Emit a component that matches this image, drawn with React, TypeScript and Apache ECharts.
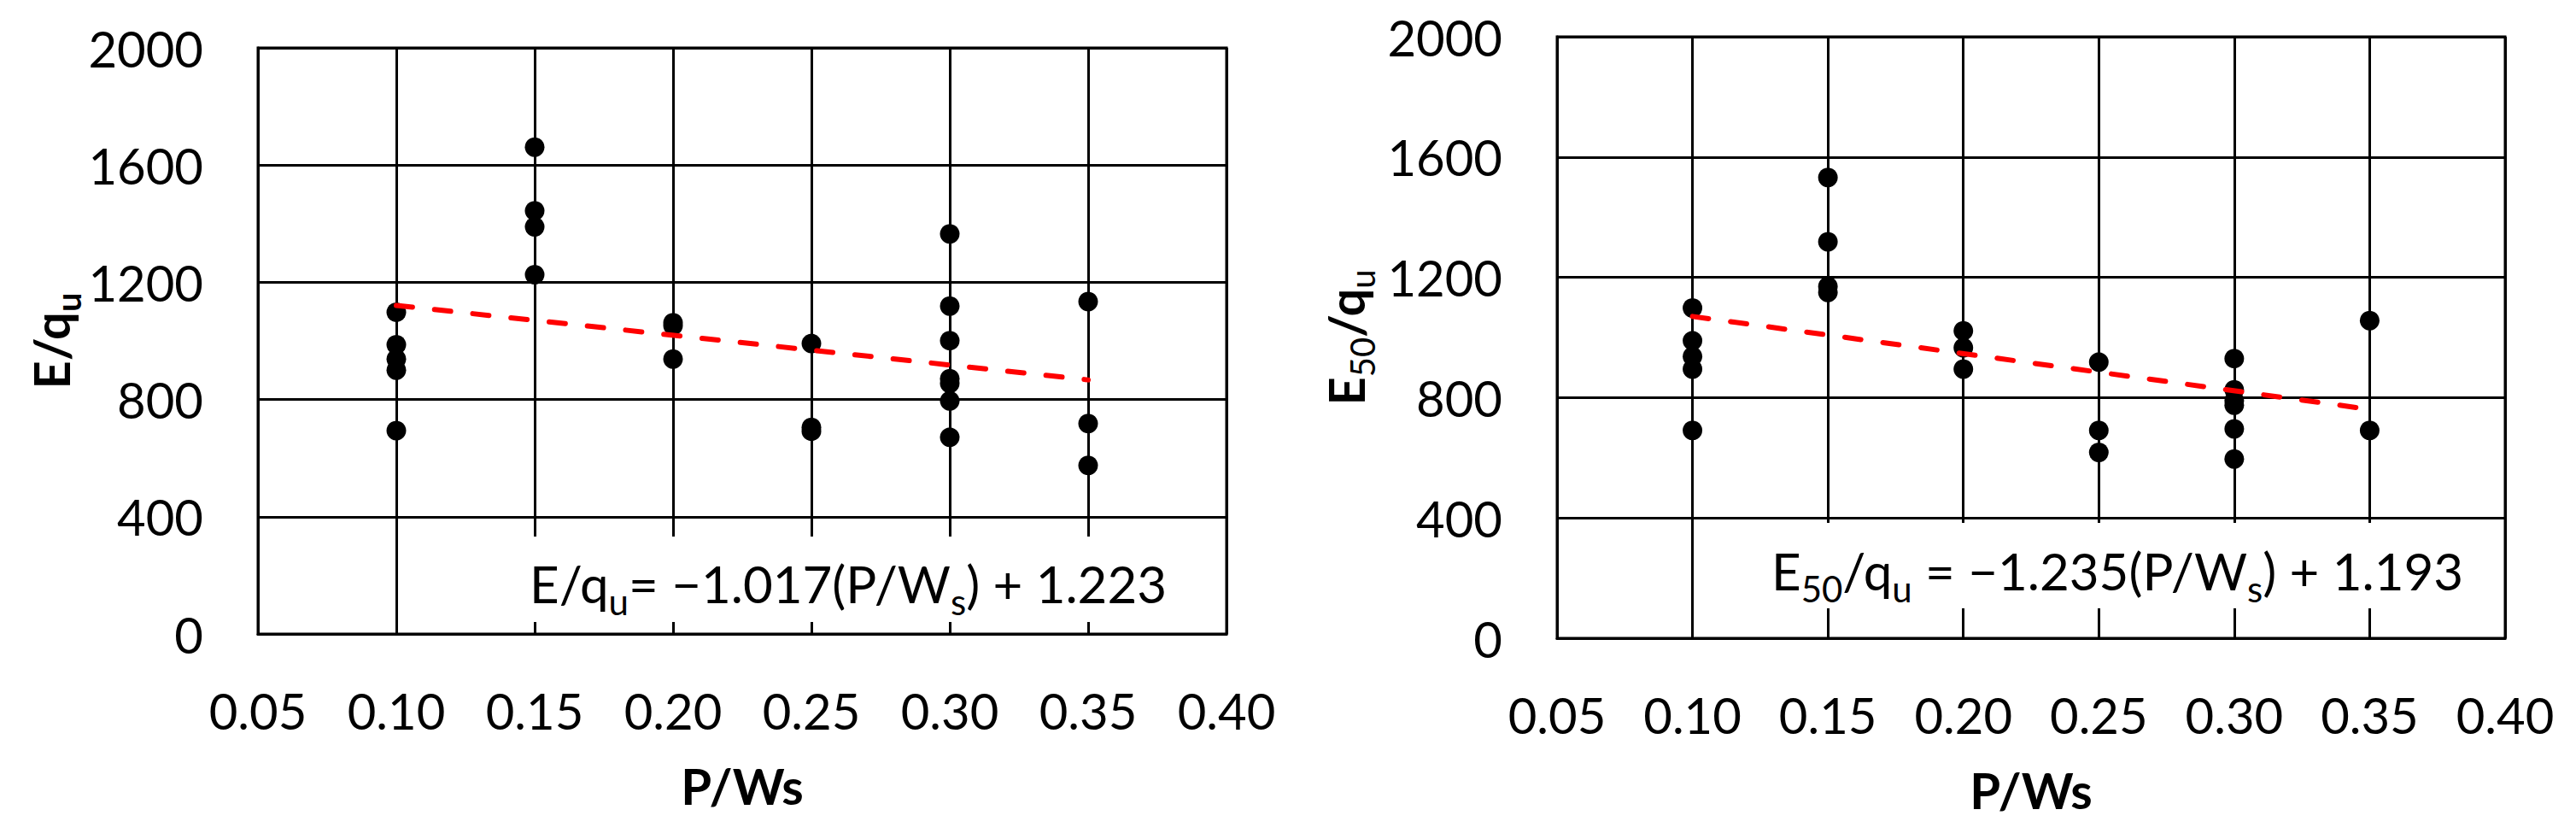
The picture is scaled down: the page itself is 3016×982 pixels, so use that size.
import React, { useEffect, useRef } from "react";
import * as echarts from "echarts";

// ---- axis ranges / ticks ----
const X_MIN = 0.05;
const X_MAX = 0.4;
const X_STEP = 0.05;
const Y_MIN = 0;
const Y_MAX = 2000;
const Y_STEP = 400;

// ---- left chart: E/qu vs P/Ws ----
const LEFT_PWS = [
  0.1, 0.1, 0.1, 0.1, 0.1,
  0.15, 0.15, 0.15, 0.15,
  0.2, 0.2, 0.2,
  0.25, 0.25, 0.25,
  0.3, 0.3, 0.3, 0.3, 0.3, 0.3, 0.3,
  0.35, 0.35, 0.35,
];
const LEFT_E_QU = [
  1098, 987, 938, 900, 694,
  1661, 1444, 1389, 1226,
  1062, 1052, 938,
  991, 705, 692,
  1365, 1119, 1001, 871, 855, 795, 671,
  1134, 718, 575,
];
const LEFT_TREND_PWS = [0.1, 0.35];
const LEFT_TREND_VAL = [1121, 867];

// ---- right chart: E50/qu vs P/Ws ----
const RIGHT_PWS = [
  0.1, 0.1, 0.1, 0.1, 0.1,
  0.15, 0.15, 0.15, 0.15,
  0.2, 0.2, 0.2,
  0.25, 0.25, 0.25,
  0.3, 0.3, 0.3, 0.3, 0.3, 0.3,
  0.35, 0.35,
];
const RIGHT_E50_QU = [
  1098, 989, 937, 895, 691,
  1532, 1318, 1170, 1150,
  1022, 966, 895,
  918, 691, 618,
  930, 826, 790, 775, 696, 596,
  1056, 691,
];
const RIGHT_TREND_PWS = [0.1, 0.35];
const RIGHT_TREND_VAL = [1070, 761];

// ---- texts ----
const X_TITLE = "P/Ws";
const LEFT_Y_TITLE = "{b|E/q}{bs|u}";
const RIGHT_Y_TITLE = "{b|E}{ns|50}{b|/q}{ns|u}";
const LEFT_EQUATION = "{m|E/q}{s|u}{m|= −1.017(P/W}{s|s}{m|) + 1.223}";
const RIGHT_EQUATION = "{m|E}{s|50}{m|/q}{s|u}{m| = −1.235(P/W}{s|s}{m|) + 1.193}";

const FONT = "Lato, 'Open Sans', 'DejaVu Sans', sans-serif";
const FS = 58;
const SUB = 40;
const EQ_FS = 60;
const EQ_SUB = 42;

const titleRich = {
  b: { fontFamily: FONT, fontSize: FS, fontWeight: "bold", color: "#000", lineHeight: FS, verticalAlign: "top" },
  bs: {
    fontFamily: FONT, fontSize: SUB, fontWeight: "bold", color: "#000",
    lineHeight: SUB, verticalAlign: "top", padding: [29, 0, 0, 0],
  },
  ns: {
    fontFamily: FONT, fontSize: SUB, fontWeight: "normal", color: "#000",
    lineHeight: SUB, verticalAlign: "top", padding: [29, 0, 0, 0],
  },
};
const eqRich = {
  m: { fontFamily: FONT, fontSize: EQ_FS, fontWeight: "normal", color: "#000", lineHeight: EQ_FS, verticalAlign: "top" },
  s: {
    fontFamily: FONT, fontSize: EQ_SUB, fontWeight: "normal", color: "#000",
    lineHeight: EQ_SUB, verticalAlign: "top", padding: [30, 0, 0, 0],
  },
};

function xAxisFor(gridIndex: number) {
  return {
    type: "value",
    gridIndex,
    min: X_MIN,
    max: X_MAX,
    interval: X_STEP,
    axisLine: { show: true, onZero: false, lineStyle: { color: "#000", width: 3 } },
    axisTick: { show: false },
    splitLine: { show: true, lineStyle: { color: "#000", width: 3 } },
    axisLabel: {
      fontFamily: FONT,
      fontSize: FS,
      color: "#000",
      margin: 60,
      formatter: (v: number) => v.toFixed(2),
    },
    name: X_TITLE,
    nameLocation: "middle",
    nameGap: 148,
    nameTextStyle: { fontFamily: FONT, fontSize: FS, fontWeight: "bold", color: "#000" },
  };
}

function yAxisFor(gridIndex: number, name: string, nameGap: number) {
  return {
    type: "value",
    gridIndex,
    min: Y_MIN,
    max: Y_MAX,
    interval: Y_STEP,
    axisLine: { show: true, onZero: false, lineStyle: { color: "#000", width: 3 } },
    axisTick: { show: false },
    splitLine: { show: true, lineStyle: { color: "#000", width: 3 } },
    axisLabel: {
      fontFamily: FONT,
      fontSize: FS,
      color: "#000",
      margin: 64,
      formatter: (v: number) => String(v),
    },
    name,
    nameLocation: "middle",
    nameRotate: 90,
    nameGap,
    nameTextStyle: { rich: titleRich },
  };
}

function pairs(xs: number[], ys: number[]) {
  return xs.map((x, i) => [x, ys[i]]);
}

export default function App() {
  const ref = useRef<HTMLDivElement>(null);
  useEffect(() => {
    if (!ref.current) return;
    const chart = echarts.init(ref.current, undefined, { renderer: "svg" });
    const scatterStyle = {
      symbol: "circle",
      symbolSize: 23,
      itemStyle: { color: "#000", opacity: 1 },
      z: 3,
    };
    const trendStyle = {
      type: "line",
      symbol: "none",
      z: 4,
      lineStyle: { color: "#ff0000", width: 6, type: [19, 26], cap: "round", opacity: 1 },
    };
    chart.setOption({
      animation: false,
      backgroundColor: "#fff",
      grid: [
        { left: 302, top: 56, width: 1134, height: 686, show: true, borderColor: "#000", borderWidth: 3 },
        { left: 1823, top: 43, width: 1110, height: 704, show: true, borderColor: "#000", borderWidth: 3 },
      ],
      xAxis: [xAxisFor(0), xAxisFor(1)],
      yAxis: [yAxisFor(0, LEFT_Y_TITLE, 213), yAxisFor(1, RIGHT_Y_TITLE, 219)],
      title: [
        {
          left: 600,
          top: 628,
          text: LEFT_EQUATION,
          backgroundColor: "#fff",
          padding: [25, 30, 3, 20],
          textStyle: { fontWeight: "normal", rich: eqRich },
        },
        {
          left: 2054,
          top: 612,
          text: RIGHT_EQUATION,
          backgroundColor: "#fff",
          padding: [26, 20, 2, 20],
          textStyle: { fontWeight: "normal", rich: eqRich },
        },
      ],
      series: [
        { type: "scatter", xAxisIndex: 0, yAxisIndex: 0, data: pairs(LEFT_PWS, LEFT_E_QU), ...scatterStyle },
        { ...trendStyle, xAxisIndex: 0, yAxisIndex: 0, data: pairs(LEFT_TREND_PWS, LEFT_TREND_VAL) },
        { type: "scatter", xAxisIndex: 1, yAxisIndex: 1, data: pairs(RIGHT_PWS, RIGHT_E50_QU), ...scatterStyle },
        { ...trendStyle, xAxisIndex: 1, yAxisIndex: 1, data: pairs(RIGHT_TREND_PWS, RIGHT_TREND_VAL) },
      ],
    });
    return () => chart.dispose();
  }, []);
  return (
    <div
      ref={ref}
      style={{ position: "absolute", left: 0, top: 0, width: 3016, height: 982 }}
    />
  );
}
